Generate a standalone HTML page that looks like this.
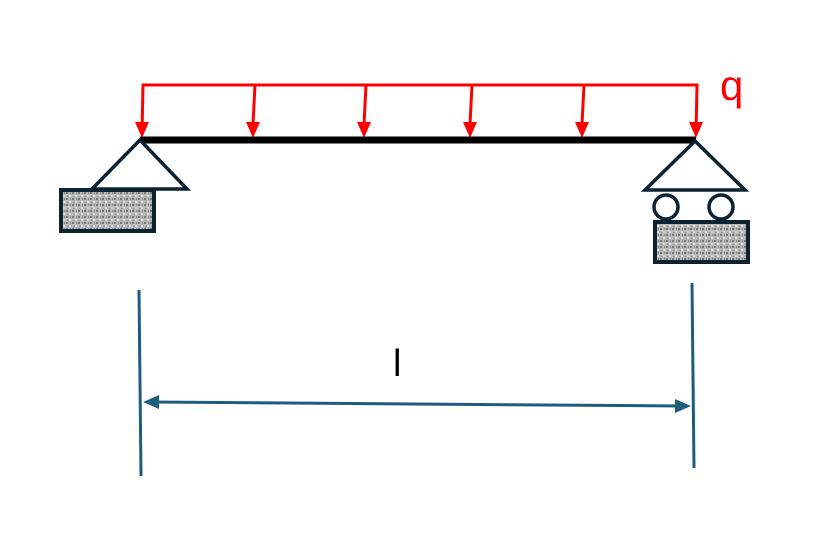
<!DOCTYPE html><html><head><style>body{margin:0;background:#fff}</style></head><body>
<svg width="834" height="534" xmlns="http://www.w3.org/2000/svg">
<defs>
<pattern id="g" width="6" height="6" patternUnits="userSpaceOnUse"><rect width="6" height="6" fill="#b8b8b8"/><rect x="0" y="0" width="2" height="2" fill="#777"/><rect x="3" y="3" width="2" height="2" fill="#ddd"/><rect x="4" y="0" width="1" height="2" fill="#888"/><rect x="1" y="4" width="2" height="1" fill="#999"/></pattern>
</defs>
<g stroke="#f00" stroke-width="3" fill="none">
<polyline points="142,134 143,85 697,85 696,134"/>
</g>
<g fill="#f00">
<path d="M135,122 L149,122 L142,138z"/><path d="M689,122 L703,122 L696,138z"/>
</g>
<g stroke="#f00" stroke-width="3">
<line x1="255" y1="85" x2="253" y2="124"/><line x1="366" y1="85" x2="364" y2="124"/><line x1="472" y1="85" x2="470" y2="124"/><line x1="584" y1="85" x2="582" y2="124"/>
</g>
<g fill="#f00">
<path d="M246,122 L260,122 L253,138z"/><path d="M357,122 L371,122 L364,138z"/><path d="M463,122 L477,122 L470,138z"/><path d="M575,122 L589,122 L582,138z"/>
</g>
<line x1="140" y1="140" x2="696" y2="140" stroke="#000" stroke-width="7"/>
<g stroke="#0b2233" stroke-width="3.5" fill="#fff">
<path d="M140,140 L187,189 L92,189z"/>
<path d="M695,141 L745,190 L645,190z"/>
<circle cx="666" cy="207" r="12"/><circle cx="721" cy="207" r="12"/>
</g>
<g stroke="#0b2233" stroke-width="4" fill="url(#g)">
<rect x="61" y="190" width="93" height="41"/>
<rect x="655" y="222" width="93" height="40"/>
</g>
<g stroke="#1e5c7e" stroke-width="3">
<line x1="139" y1="290" x2="141" y2="476"/>
<line x1="692" y1="283" x2="694" y2="468"/>
<line x1="150" y1="402" x2="682" y2="406"/>
</g>
<path d="M143,402 L159,395 L159,409z" fill="#1e5c7e"/>
<path d="M691,406 L675,399 L675,413z" fill="#1e5c7e"/>
<text x="393" y="376" font-family="Liberation Sans, sans-serif" font-size="38" fill="#000">l</text>
<text x="720" y="100" font-family="Liberation Sans, sans-serif" font-size="42" fill="#f00">q</text>
</svg>
</body></html>
